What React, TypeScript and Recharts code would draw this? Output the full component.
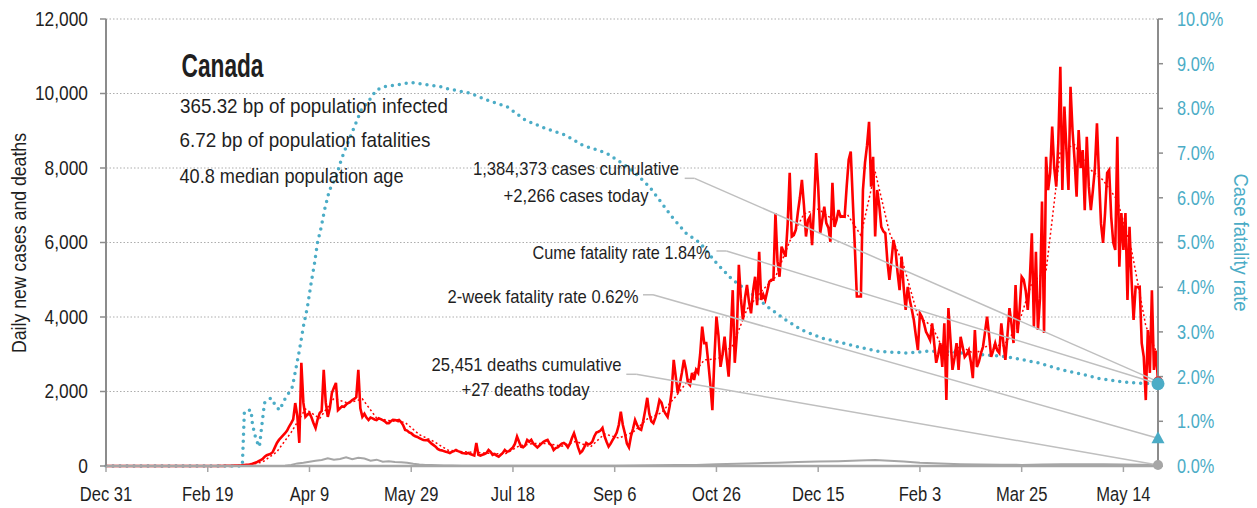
// Canada daily cases / deaths with case fatality rate
import {
  ComposedChart,
  Line,
  XAxis,
  YAxis,
  CartesianGrid,
  ReferenceLine,
  ReferenceDot,
} from 'recharts'

const FONT = '"Liberation Sans", Arial, sans-serif'
const RED = '#FF0000'
const TEAL = '#4BACC6'
const GRAY = '#A6A6A6'
const TEXT = '#1f1f1f'
const TICK_FS = 19.5

// x axis: days since Dec 31, 2019
const xTicks = [0, 50, 100, 150, 200, 250, 300, 350, 400, 450, 500]
const xTickLabels = ['Dec 31', 'Feb 19', 'Apr 9', 'May 29', 'Jul 18', 'Sep 6', 'Oct 26', 'Dec 15', 'Feb 3', 'Mar 25', 'May 14']
const leftTicks = [0, 2000, 4000, 6000, 8000, 10000, 12000]
const rightTicks = [0, 1, 2, 3, 4, 5, 6, 7, 8, 9, 10]

// daily new cases, one value per day starting Dec 31
const dailyCases = [
  0, 0, 0, 0, 0, 0, 0, 0, 0, 0,
  0, 0, 0, 0, 0, 0, 0, 0, 0, 0,
  0, 0, 0, 0, 0, 0, 0, 0, 0, 0,
  0, 0, 0, 0, 0, 0, 0, 0, 0, 0,
  0, 0, 0, 0, 0, 0, 0, 0, 0, 0,
  // 50
  0, 0, 1, 0, 2, 1, 3, 2, 4, 5,
  6, 3, 8, 10, 9, 12, 15, 20, 25, 30,
  35, 45, 60, 80, 100, 130, 160, 190, 250, 290,
  310, 330, 380, 500, 620, 700, 760, 820, 880, 950,
  // 90
  1060, 1150, 1250, 1690, 1350, 620, 2770, 1700, 1320, 1380,
  1420, 1300, 1150, 1020, 1250, 1420, 1480, 2580, 1700, 1320,
  1550, 1960, 2100, 2230, 1500, 1550, 1600, 1590, 1650, 1690,
  1720, 1770, 1800, 1850, 2580, 1550, 1320, 1400, 1300, 1235,
  1300, 1280, 1250, 1235, 1280, 1260, 1230, 1200, 1150, 1150,
  // 140
  1200, 1240, 1235, 1220, 1235, 1180, 1100, 970, 950, 900,
  880, 830, 800, 780, 750, 720, 700, 690, 700, 650,
  600, 560, 520, 460, 430, 420, 400, 380, 370, 350,
  380, 400, 430, 400, 380, 350, 340, 330, 350, 320,
  300, 280, 620, 300, 280, 300, 320, 350, 430, 380,
  // 190
  300, 320, 280, 250, 300, 350, 430, 380, 400, 450,
  500, 600, 790, 650, 520, 500, 550, 700, 650, 700,
  600, 550, 500, 550, 600, 650, 680, 700, 600, 550,
  430, 480, 500, 550, 600, 620, 580, 500, 600, 750,
  880, 700, 500, 350, 400, 500, 620, 580, 600, 650,
  // 240
  800, 900, 920, 950, 1020, 800, 650, 520, 600, 700,
  790, 900, 1100, 1460, 1100, 880, 600, 500, 800, 1000,
  1235, 1100, 1000, 970, 1200, 1500, 1830, 1400, 1200, 1150,
  1300, 1500, 1770, 1700, 1500, 1400, 1320, 1600, 2000, 2850,
  2400, 1960, 2200, 2500, 2850, 2600, 2230, 2170, 2500, 2310,
  // 290
  2580, 2500, 3000, 3740, 3300, 3300, 2770, 2200, 1500, 2900,
  4010, 3500, 2660, 3000, 3470, 2900, 2400, 3500, 4720, 2770,
  3500, 5400, 4500, 3920, 4500, 4860, 4400, 4100, 4700, 5080,
  4320, 5750, 4460, 4600, 4460, 4700, 4950, 5000, 5000, 6790,
  5500, 5080, 5890, 5750, 5620, 6500, 7870, 6160, 6200, 6340,
  // 340
  6800, 7200, 7680, 7000, 6160, 6600, 6700, 5930, 7000, 8400,
  7500, 6250, 6600, 6960, 6520, 6400, 6020, 7600, 6420, 6600,
  6870, 6690, 6700, 6690, 7500, 8220, 8440, 7140, 5890, 4550,
  4550, 4550, 7410, 8140, 8600, 9240, 7500, 8300, 6160, 7410,
  7000, 6420, 6300, 6250, 5500, 5000, 5500, 6070, 5800, 5200,
  // 390
  4720, 5620, 4800, 4190, 4810, 4460, 4200, 3920, 3500, 3110,
  4100, 4000, 3830, 3600, 3500, 3380, 3830, 3300, 2770, 3000,
  3300, 2660, 3830, 1770, 4240, 3400, 2580, 2900, 3300, 2580,
  3470, 3200, 2930, 3000, 3110, 2800, 2360, 3650, 2660, 2800,
  3030, 3200, 3600, 4010, 3500, 2930, 3100, 3300, 3100, 3030,
  // 440
  3830, 3300, 2850, 3500, 4240, 3800, 3300, 4860, 3570, 4200,
  5080, 5000, 4700, 4190, 5000, 6250, 3740, 5750, 3650, 4500,
  7100, 3570, 8300, 7410, 7870, 9110, 8000, 7500, 8670, 10720,
  7410, 9650, 8500, 7410, 10180, 9000, 8220, 7230, 9020, 8000,
  8480, 6870, 8840, 7500, 6870, 7400, 8000, 9200, 7770, 6500,
  // 490
  5990, 6800, 7870, 7950, 6690, 6000, 5800, 8840, 5350, 6790,
  5800, 6790, 4460, 6420, 5000, 3920, 4810, 4800, 4810, 3300,
  2930, 1770, 3650, 2500, 4720, 2580, 3100, 2266,
]

// 7-day average of cases [day, value]
const avgCases: [number, number][] = [
  [0, 0], [63, 5], [70, 21], [77, 109], [84, 383], [91, 903], [98, 1529], [105, 1277],
  [112, 1813], [119, 1687], [126, 1799], [133, 1286], [140, 1210], [147, 1169], [154, 841],
  [161, 660], [168, 426], [175, 384], [182, 363], [189, 337], [196, 319], [203, 539],
  [210, 603], [217, 604], [224, 530], [231, 661], [238, 507], [245, 863], [252, 751],
  [259, 906], [266, 1262], [273, 1431], [280, 1867], [287, 2359], [294, 2847], [301, 2883],
  [308, 3236], [315, 4207], [322, 4687], [329, 5071], [336, 6030], [343, 6769], [350, 6899],
  [357, 6621], [364, 6781], [371, 6191], [378, 7907], [385, 6269], [392, 5387], [399, 4027],
  [406, 3749], [413, 2947], [420, 3210], [427, 3007], [434, 3257], [441, 3227], [448, 3731],
  [455, 4917], [462, 5230], [469, 8469], [476, 8624], [483, 7991], [490, 7676], [497, 7136],
  [504, 5801], [511, 3763], [517, 2941],
]

// daily deaths [day, value]
const dailyDeaths: [number, number][] = [
  [0, 0], [86, 0], [88, 5], [91, 30], [94, 70], [97, 90], [100, 115], [103, 140], [106, 160],
  [109, 205], [112, 170], [115, 190], [118, 233], [121, 180], [124, 222], [127, 200], [130, 142],
  [133, 170], [136, 115], [139, 130], [142, 110], [145, 100], [148, 90], [151, 60], [154, 40],
  [157, 30], [160, 25], [163, 20], [166, 15], [170, 12], [175, 10], [180, 8], [190, 6],
  [200, 5], [210, 4], [220, 5], [230, 6], [240, 5], [250, 8], [260, 12], [270, 20], [280, 25],
  [290, 30], [300, 45], [310, 60], [320, 75], [330, 90], [340, 110], [350, 120], [360, 130],
  [370, 150], [378, 160], [385, 140], [392, 120], [400, 90], [410, 70], [420, 50], [430, 40],
  [440, 35], [450, 30], [460, 40], [470, 50], [480, 45], [490, 50], [500, 40], [510, 35], [517, 27],
]

// cumulative case fatality rate, % [day, value]
const cfrPoints: [number, number][] = [
  [0, 0], [67, 0], [68, 1.21], [69.5, 1.25], [71.3, 1.25], [72, 0.92], [73.8, 0.58], [75.4, 0.43],
  [76.3, 0.8], [77.9, 1.41], [79.4, 1.48], [81.2, 1.52], [83.6, 1.33], [85.3, 1.25], [87.7, 1.48],
  [90.2, 1.66], [91.6, 1.77], [93.5, 2.22], [95.1, 2.6], [97, 3.12], [99, 3.56], [100.8, 4.09],
  [102.5, 4.54], [103.9, 4.99], [105.8, 5.35], [107.4, 5.73], [109.8, 6.17], [113.1, 6.47],
  [115.6, 6.85], [118.7, 7.22], [122.1, 7.59], [125.4, 7.96], [129.5, 8.19], [132.8, 8.41],
  [136.9, 8.49], [142.6, 8.52], [150, 8.58], [159, 8.52], [164, 8.49], [167, 8.45], [179, 8.34],
  [187, 8.19], [197, 8.04], [206, 7.74], [216, 7.55], [226, 7.4], [234, 7.18], [246, 7.0],
  [256, 6.7], [262, 6.47], [267, 6.25], [272, 5.95], [278, 5.58], [285, 5.21], [292, 4.99],
  [300, 4.54], [308, 4.16], [316, 3.9], [326, 3.53], [334, 3.27], [342, 3.04], [352, 2.86],
  [362, 2.75], [372, 2.64], [380, 2.56], [393, 2.53], [405, 2.57], [413, 2.56], [423, 2.52],
  [439, 2.46], [447, 2.41], [459, 2.3], [469, 2.16], [479, 2.06], [488, 1.96], [498, 1.89],
  [508, 1.85], [517, 1.84],
]

const todayCases = 2266
const todayDeaths = 27
const cumeCfr = 1.84
const twoWeekCfr = 0.62
const lastDay = dailyCases.length - 1

const casesData = dailyCases.map((v, i) => ({ day: i, value: v }))
const avgData = avgCases.map(([day, value]) => ({ day, value }))
const deathData = dailyDeaths.map(([day, value]) => ({ day, value }))
const cfrData = cfrPoints.map(([day, value]) => ({ day, value }))

// leader lines: elbow point next to each note, then down to the marker
const leaders = [
  { axis: 'left', x0: 284.4, x1: 289.3, y: 7723, toY: todayCases },
  { axis: 'right', x0: 300, x1: 304.9, y: 4.81, toY: cumeCfr },
  { axis: 'right', x0: 263.9, x1: 268.8, y: 3.83, toY: twoWeekCfr },
  { axis: 'left', x0: 255.7, x1: 260.6, y: 2462, toY: todayDeaths },
]

// the original uses a condensed face; squeeze Liberation Sans to match
function scaledTick(sx: number, fill: string, anchor: string, top: boolean, fmt: (v: number) => string) {
  return (props: any) => {
    const { x, y, payload } = props
    const dy = top ? TICK_FS * 0.71 : TICK_FS * 0.355
    return (
      <g transform={`translate(${x},${y}) scale(${sx},1)`}>
        <text x={0} y={dy} textAnchor={anchor} fontSize={TICK_FS} fill={fill}>
          {fmt(payload.value)}
        </text>
      </g>
    )
  }
}

const Triangle = (props: any) => {
  const { cx, cy } = props
  return <polygon points={`${cx},${cy - 7} ${cx - 6.5},${cy + 5} ${cx + 6.5},${cy + 5}`} fill={TEAL} />
}

function Note({ x, y, w, size = 19, bold = false, children }: any) {
  return (
    <text x={x} y={y} fontSize={size} fontWeight={bold ? 700 : 400} textLength={w} lengthAdjust="spacingAndGlyphs">
      {children}
    </text>
  )
}

export default function App() {
  return (
    <div style={{ position: 'relative', width: 1257, height: 508, fontFamily: FONT, background: '#fff' }}>
      <style>{'body{margin:0}'}</style>
      <ComposedChart width={1257} height={508} margin={{ top: 19, right: 0, bottom: 0, left: 0 }}>
        <CartesianGrid yAxisId="left" vertical={false} stroke="#ADADAD" strokeDasharray="1.5 2" />
        <XAxis
          type="number"
          dataKey="day"
          domain={[0, lastDay]}
          ticks={xTicks}
          interval={0}
          height={42}
          tickSize={6}
          tickMargin={15}
          axisLine={{ stroke: GRAY, strokeWidth: 2.5 }}
          tickLine={{ stroke: GRAY, strokeWidth: 1.5 }}
          tick={scaledTick(0.85, TEXT, 'middle', true, (d) => xTickLabels[xTicks.indexOf(d)])}
        />
        <YAxis
          yAxisId="left"
          domain={[0, 12000]}
          ticks={leftTicks}
          interval={0}
          width={106}
          tickSize={6}
          tickMargin={12}
          axisLine={{ stroke: '#8C8C8C', strokeWidth: 2 }}
          tickLine={{ stroke: '#8C8C8C', strokeWidth: 1.5 }}
          tick={scaledTick(0.89, TEXT, 'end', false, (v) => v.toLocaleString('en-US'))}
        />
        <YAxis
          yAxisId="right"
          orientation="right"
          domain={[0, 10]}
          ticks={rightTicks}
          interval={0}
          width={99}
          tickSize={5}
          tickMargin={14}
          axisLine={{ stroke: '#8C8C8C', strokeWidth: 2 }}
          tickLine={{ stroke: '#8C8C8C', strokeWidth: 1.5 }}
          tick={scaledTick(0.84, TEAL, 'start', false, (v) => `${v.toFixed(1)}%`)}
        />
        <Line
          yAxisId="right"
          data={cfrData}
          dataKey="value"
          stroke={TEAL}
          strokeWidth={3.5}
          strokeDasharray="0 7"
          strokeLinecap="round"
          dot={false}
          isAnimationActive={false}
        />
        <Line yAxisId="left" data={deathData} dataKey="value" stroke={GRAY} strokeWidth={2} dot={false} isAnimationActive={false} />
        <Line yAxisId="left" data={casesData} dataKey="value" stroke={RED} strokeWidth={2.6} dot={false} isAnimationActive={false} />
        <Line
          yAxisId="left"
          data={avgData}
          dataKey="value"
          stroke={RED}
          strokeWidth={1.5}
          strokeDasharray="2 2.5"
          dot={false}
          isAnimationActive={false}
        />
        {leaders.map((l, i) => (
          <ReferenceLine
            key={`h-${i}`}
            yAxisId={l.axis}
            segment={[{ x: l.x0, y: l.y }, { x: l.x1, y: l.y }]}
            stroke="#BFBFBF"
            strokeWidth={1.5}
          />
        ))}
        {leaders.map((l, i) => (
          <ReferenceLine
            key={`d-${i}`}
            yAxisId={l.axis}
            segment={[{ x: l.x1, y: l.y }, { x: lastDay, y: l.toY }]}
            stroke="#BFBFBF"
            strokeWidth={1.5}
          />
        ))}
        <ReferenceDot yAxisId="left" x={lastDay} y={todayCases} r={5} fill={RED} stroke="none" />
        <ReferenceDot yAxisId="right" x={lastDay} y={cumeCfr} r={6.5} fill={TEAL} stroke="none" />
        <ReferenceDot yAxisId="right" x={lastDay} y={twoWeekCfr} r={6} shape={Triangle} />
        <ReferenceDot yAxisId="left" x={lastDay} y={todayDeaths} r={5} fill={GRAY} stroke="none" />
      </ComposedChart>

      <svg width={1257} height={508} style={{ position: 'absolute', left: 0, top: 0, pointerEvents: 'none' }}>
        <g fill={TEXT}>
          <Note x={181.5} y={76.5} w={82} size={34} bold>Canada</Note>
          <Note x={180} y={113} w={268} size={21}>365.32 bp of population infected</Note>
          <Note x={179.5} y={147} w={251} size={21}>6.72 bp of population fatalities</Note>
          <Note x={179.5} y={183} w={224} size={21}>40.8 median population age</Note>

          <Note x={473} y={175} w={206}>1,384,373 cases cumulative</Note>
          <Note x={503.5} y={202} w={145}>+2,266 cases today</Note>
          <Note x={532.5} y={259} w={178}>Cume fatality rate 1.84%</Note>
          <Note x={447.5} y={303} w={191}>2-week fatality rate 0.62%</Note>
          <Note x={431.5} y={371} w={190}>25,451 deaths cumulative</Note>
          <Note x={461.5} y={396} w={128}>+27 deaths today</Note>

          <g transform="translate(25.5,243) rotate(-90)">
            <Note x={-110} y={0} w={220} size={20}>Daily new cases and deaths</Note>
          </g>
        </g>
        <g transform="translate(1234,242.5) rotate(90)" fill={TEAL}>
          <Note x={-69} y={0} w={138} size={20}>Case fatality rate</Note>
        </g>
      </svg>
    </div>
  )
}
